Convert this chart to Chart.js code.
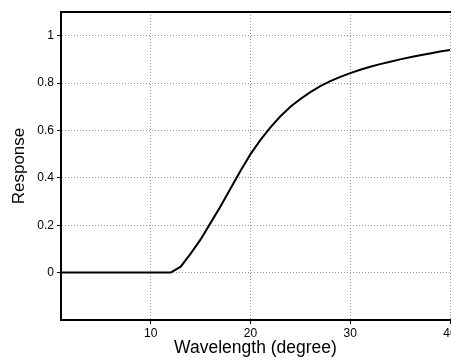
<!DOCTYPE html>
<html>
<head>
<meta charset="utf-8">
<script src="https://cdn.jsdelivr.net/npm/chart.js@4/dist/chart.umd.min.js"></script>
<style>
  html, body { margin: 0; padding: 0; background: #fff; }
  #wrap { width: 451px; height: 361px; }
</style>
</head>
<body>
<div id="wrap"><canvas id="grafico"></canvas></div>
<script>
// wavelength (degree)
const comprimentos = [1, 2, 3, 4, 5, 6, 7, 8, 9, 10, 11, 12, 13, 14, 15, 16, 17, 18, 19, 20,
    21, 22, 23, 24, 25, 26, 27, 28, 29, 30, 31, 32, 33, 34, 35, 36, 37, 38, 39, 40];
// response
const respostas = [0, 0, 0, 0, 0, 0, 0, 0, 0, 0, 0, 0, 0.025, 0.08, 0.14, 0.21, 0.28, 0.355, 0.43, 0.50,
    0.56, 0.613, 0.66, 0.70, 0.733, 0.762, 0.787, 0.808, 0.826, 0.842,
    0.856, 0.869, 0.88, 0.89, 0.90, 0.909, 0.917, 0.925, 0.933, 0.94];
const ticksX = [10, 20, 30, 40];
const ticksY = [0, 0.2, 0.4, 0.6, 0.8, 1];

const fonte = "'Liberation Sans', Arial, sans-serif";

// linha superior da moldura
const moldura = {
    id: "moldura",
    afterDraw(chart) {
        const { ctx, chartArea } = chart;
        ctx.save();
        ctx.strokeStyle = "#000";
        ctx.lineWidth = 2;
        ctx.beginPath();
        ctx.moveTo(chartArea.left - 1, chartArea.top);
        ctx.lineTo(chartArea.right + 1, chartArea.top);
        ctx.stroke();
        ctx.restore();
    }
};

const grade = { color: "#999", tickColor: "#000", tickLength: 4, tickBorderDash: [] };
const borda = { color: "#000", width: 2, dash: [1, 2] };

const ctx = document.getElementById("grafico").getContext("2d");

new Chart(ctx, {
    type: "line",
    data: {
        datasets: [{
            label: "Response",
            data: comprimentos.map((x, i) => ({ x: x, y: respostas[i] })),
            borderColor: "#000",
            borderWidth: 2,
            pointRadius: 0,
            tension: 0
        }]
    },
    plugins: [moldura],
    options: {
        responsive: true,
        maintainAspectRatio: false,
        animation: false,
        layout: { padding: { top: 12, right: 1, left: 0, bottom: 0 } },
        plugins: {
            legend: { display: false },
            tooltip: { enabled: false }
        },
        scales: {
            x: {
                type: "linear",
                min: 1,
                max: 40,
                afterBuildTicks: scale => { scale.ticks = ticksX.map(v => ({ value: v })); },
                afterFit: scale => {
                    scale.height = 41;
                    scale.paddingLeft = 0;
                    scale.paddingRight = 0;
                },
                ticks: { color: "#000", font: { family: fonte, size: 12 }, padding: 2, maxRotation: 0 },
                grid: grade,
                border: borda,
                title: {
                    display: true,
                    text: "Wavelength (degree)",
                    color: "#000",
                    font: { family: fonte, size: 17.5 },
                    padding: { top: 0, bottom: 2 }
                }
            },
            y: {
                type: "linear",
                min: -0.2,
                max: 1.1,
                afterBuildTicks: scale => { scale.ticks = ticksY.map(v => ({ value: v })); },
                afterFit: scale => {
                    scale.width = 61;
                    scale.paddingTop = 0;
                    scale.paddingBottom = 0;
                },
                ticks: {
                    color: "#000",
                    font: { family: fonte, size: 12 },
                    padding: 3,
                    callback: v => String(+v.toFixed(1))
                },
                grid: grade,
                border: borda,
                title: {
                    display: true,
                    text: "Response",
                    color: "#000",
                    font: { family: fonte, size: 17 },
                    padding: { top: 9, bottom: 0 }
                }
            }
        }
    }
});
</script>
</body>
</html>
